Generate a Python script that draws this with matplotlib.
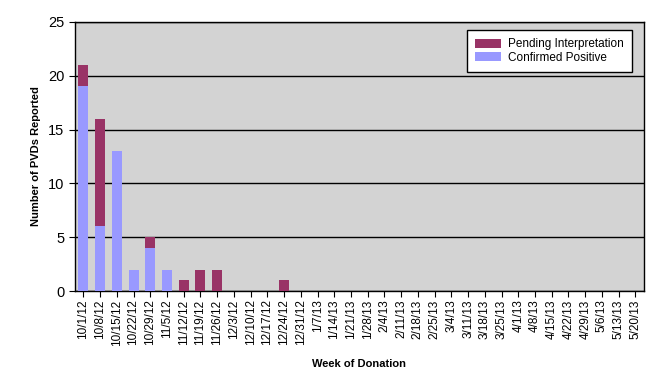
#!/usr/bin/env python3
"""Weekly PVDs reported, stacked bar chart."""

import matplotlib
matplotlib.use("Agg")
import matplotlib.pyplot as plt
import numpy as np

plt.rcParams["font.family"] = ["Liberation Sans", "DejaVu Sans"]

# ---------------------------------------------------------------------------
# Data
# ---------------------------------------------------------------------------
weeks = [
    "10/1/12", "10/8/12", "10/15/12", "10/22/12", "10/29/12", "11/5/12",
    "11/12/12", "11/19/12", "11/26/12", "12/3/12", "12/10/12", "12/17/12",
    "12/24/12", "12/31/12", "1/7/13", "1/14/13", "1/21/13", "1/28/13",
    "2/4/13", "2/11/13", "2/18/13", "2/25/13", "3/4/13", "3/11/13",
    "3/18/13", "3/25/13", "4/1/13", "4/8/13", "4/15/13", "4/22/13",
    "4/29/13", "5/6/13", "5/13/13", "5/20/13",
]
confirmed = [19, 6, 13, 2, 4, 2, 0, 0, 0, 0, 0, 0, 0, 0, 0, 0, 0,
             0, 0, 0, 0, 0, 0, 0, 0, 0, 0, 0, 0, 0, 0, 0, 0, 0]
pending = [2, 10, 0, 0, 1, 0, 1, 2, 2, 0, 0, 0, 1, 0, 0, 0, 0,
           0, 0, 0, 0, 0, 0, 0, 0, 0, 0, 0, 0, 0, 0, 0, 0, 0]

# ---------------------------------------------------------------------------
fig = plt.figure(figsize=(6.72, 3.84), dpi=100)
ax = fig.add_axes([0.1116, 0.242, 0.8464, 0.701])
ax.set_facecolor("#d3d3d3")

x = np.arange(len(weeks))
ax.bar(x, confirmed, width=0.6, color="#9999ff", label="Confirmed Positive",
       zorder=3)
ax.bar(x, pending, width=0.6, bottom=confirmed, color="#993366",
       label="Pending Interpretation", zorder=3)

ax.set_xlim(-0.5, len(weeks) - 0.5)
ax.set_ylim(0, 25)
ax.set_yticks([0, 5, 10, 15, 20, 25])
ax.yaxis.grid(True, color="black", linewidth=1, zorder=1)
ax.set_xticks(x)
ax.set_xticklabels(weeks, rotation=90, fontsize=8.5)
ax.tick_params(axis="y", labelsize=10.5, direction="out", length=4)
ax.tick_params(axis="x", direction="out", length=4, pad=2)

for side in ["top", "right", "left", "bottom"]:
    ax.spines[side].set_color("black")
    ax.spines[side].set_linewidth(1)

ax.set_xlabel("Week of Donation", fontsize=8, fontweight="bold", labelpad=10)
ax.set_ylabel("Number of PVDs Reported", fontsize=8, fontweight="bold",
              labelpad=5)

handles, labels = ax.get_legend_handles_labels()
leg = ax.legend(handles[::-1], labels[::-1], loc="upper right",
                bbox_to_anchor=(0.98, 0.97), fontsize=8.5, frameon=True,
                fancybox=False, edgecolor="black", framealpha=1,
                handlelength=2.2, handleheight=0.8, borderpad=0.7,
                labelspacing=0.15, handletextpad=0.6, borderaxespad=0)
leg.get_frame().set_linewidth(1)

plt.savefig("out.png", dpi=100)
plt.close()
